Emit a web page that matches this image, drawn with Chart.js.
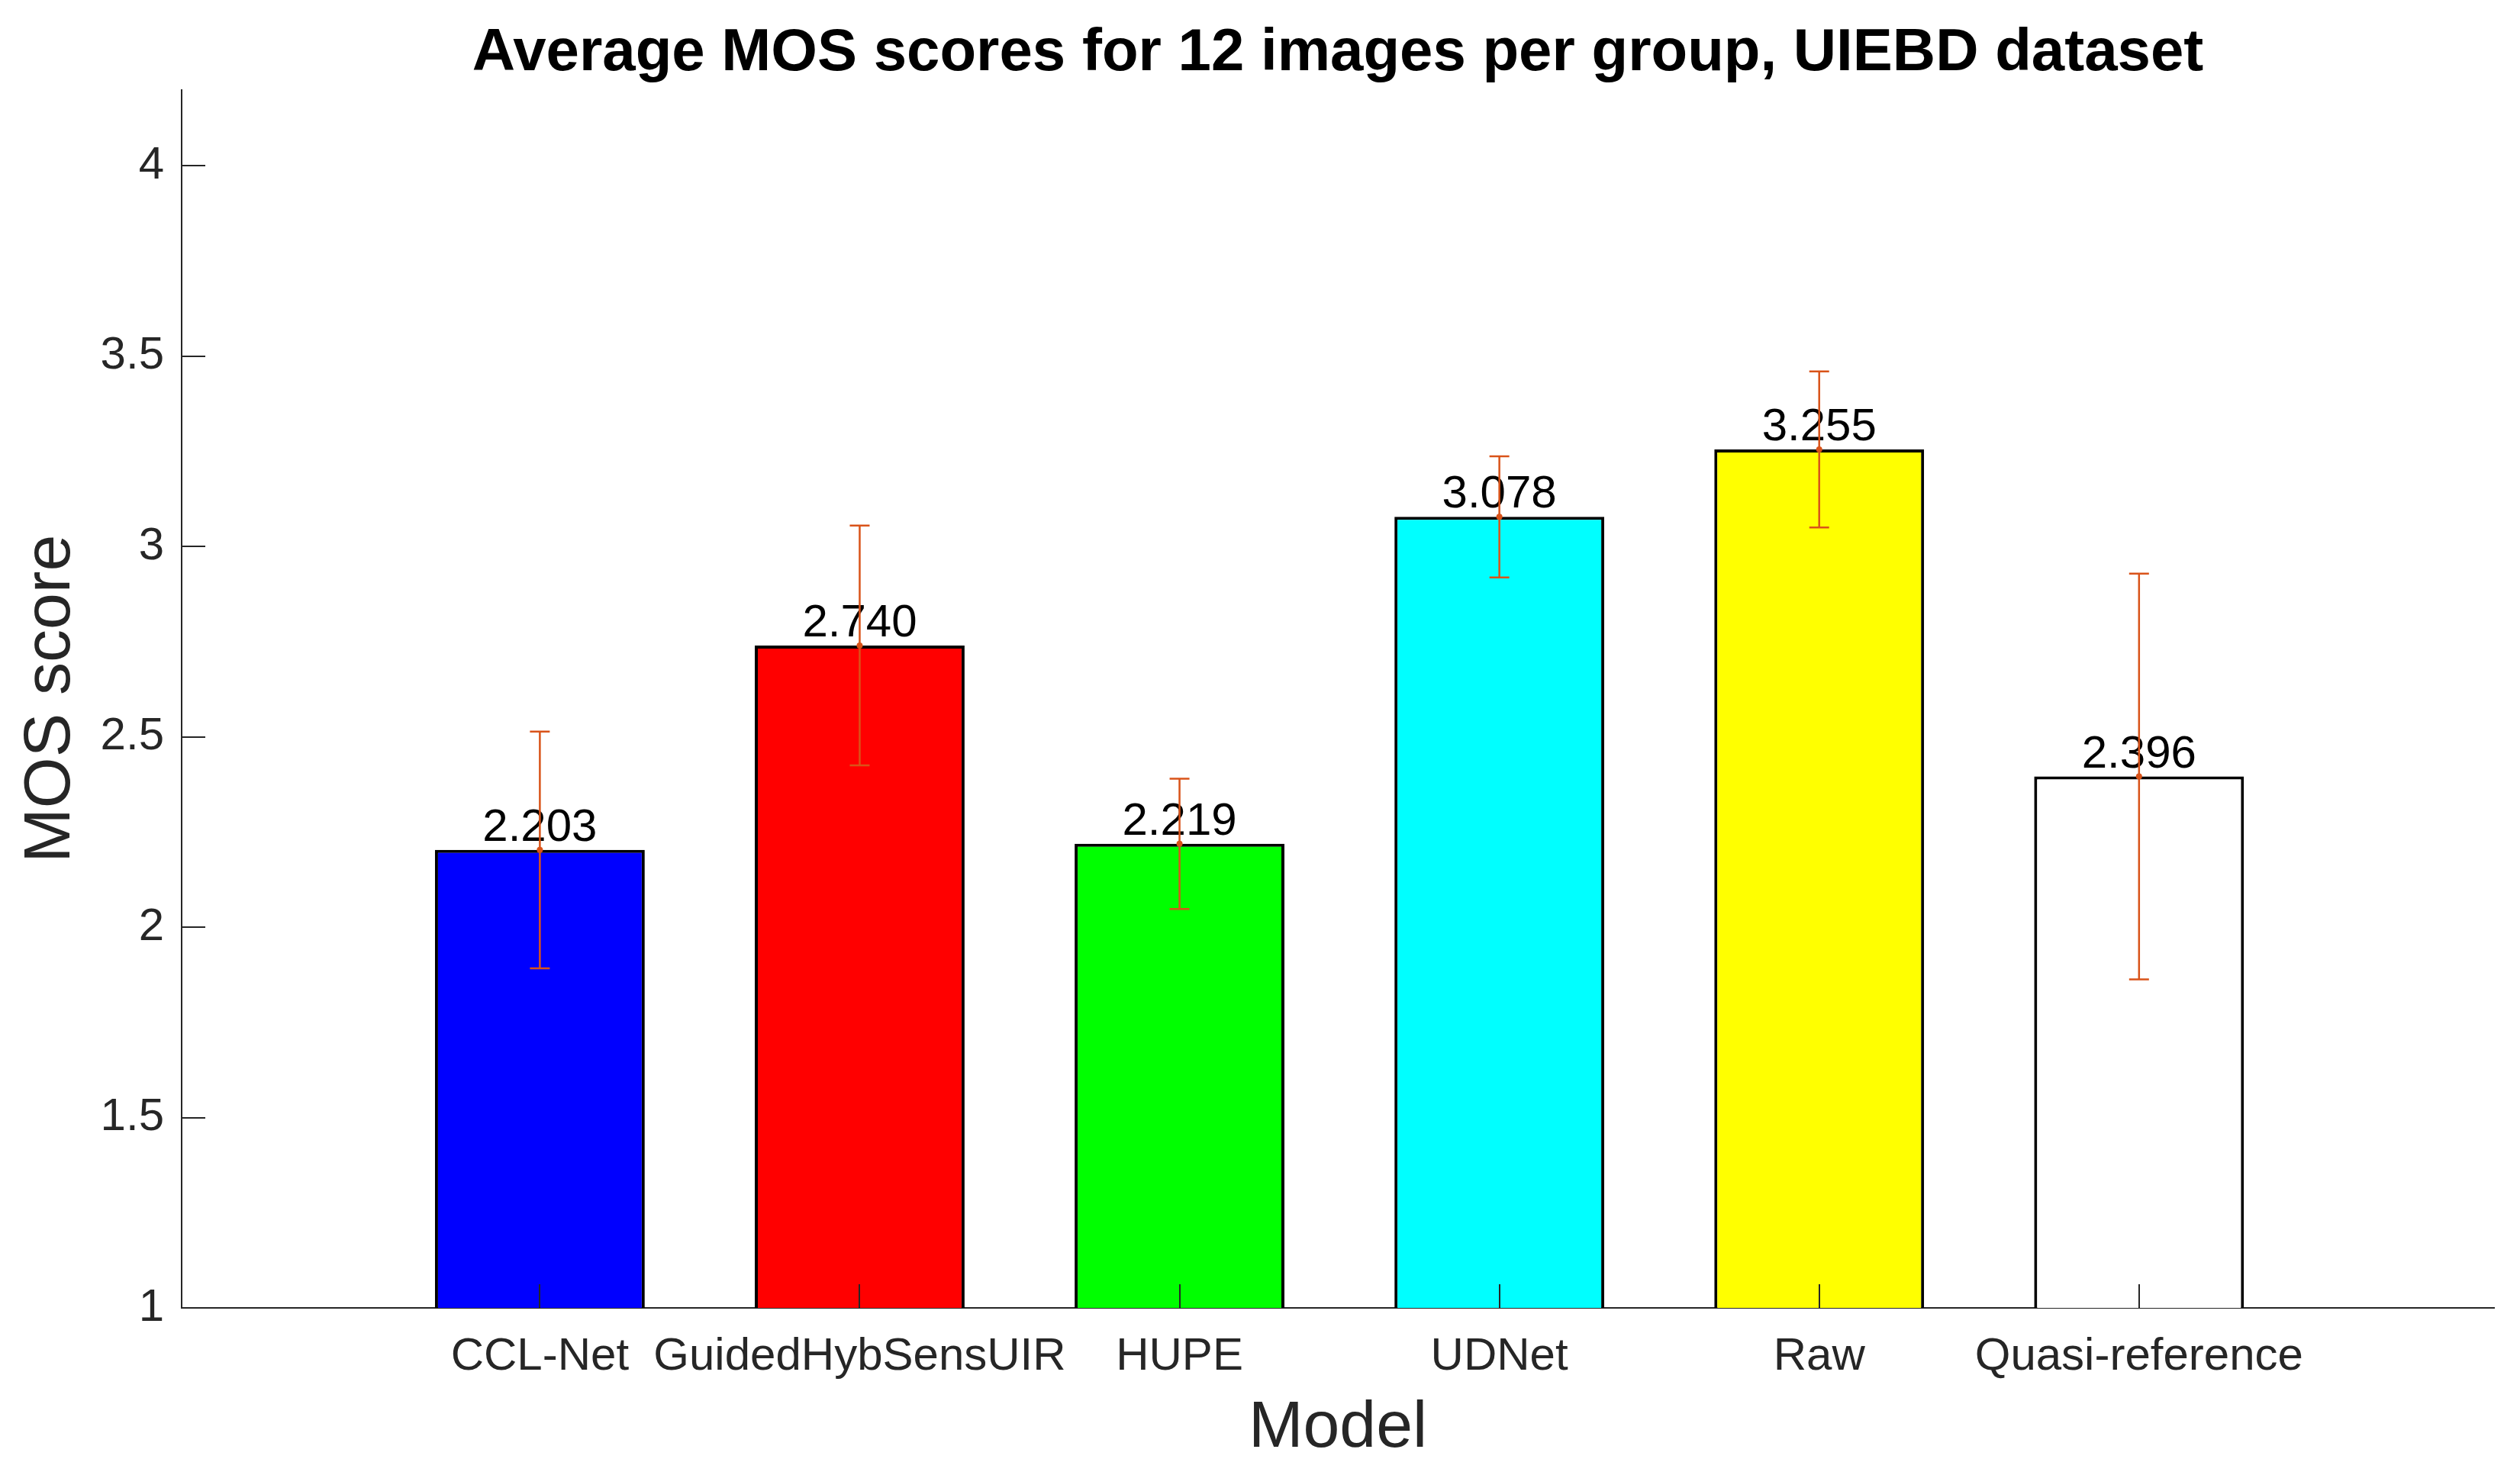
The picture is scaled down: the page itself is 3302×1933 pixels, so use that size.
<!DOCTYPE html>
<html>
<head>
<meta charset="utf-8">
<title>Average MOS scores</title>
<script src="https://cdn.jsdelivr.net/npm/chart.js@4.4.1/dist/chart.umd.min.js"></script>
<style>
  html, body { margin: 0; padding: 0; background: #fff; }
  #wrap { width: 3302px; height: 1933px; }
</style>
</head>
<body>
<div id="wrap"><canvas id="mosChart"></canvas></div>
<script>
const models = ["CCL-Net", "GuidedHybSensUIR", "HUPE", "UDNet", "Raw", "Quasi-reference"];
const mosMeans = [2.203, 2.740, 2.219, 3.078, 3.255, 2.396];
const mosErrors = [0.311, 0.315, 0.171, 0.159, 0.205, 0.533];
const barColors = ["#0000ff", "#ff0000", "#00ff00", "#00ffff", "#ffff00", "#ffffff"];
const yTicks = [1, 1.5, 2, 2.5, 3, 3.5, 4];

const FONT = "'Liberation Sans', Arial, Helvetica, sans-serif";
const AXIS = "#262626";
const ERR = "#d95319";

// inward tick marks, value labels and error bars
const mosExtras = {
  id: "mosExtras",
  afterDatasetsDraw(chart) {
    const { ctx, scales: { x, y } } = chart;
    const meta = chart.getDatasetMeta(0);
    ctx.save();

    // value labels above bars
    ctx.fillStyle = "#000";
    ctx.font = "60px " + FONT;
    ctx.textAlign = "center";
    ctx.textBaseline = "alphabetic";
    meta.data.forEach((bar, i) => {
      ctx.fillText(mosMeans[i].toFixed(3), bar.x, bar.y - 12);
    });

    // ticks pointing into the plot
    ctx.strokeStyle = AXIS;
    ctx.lineWidth = 2;
    ctx.beginPath();
    y.ticks.forEach((t) => {
      const py = Math.round(y.getPixelForValue(t.value));
      ctx.moveTo(x.left, py);
      ctx.lineTo(x.left + 31, py);
    });
    models.forEach((m, i) => {
      const px = Math.round(x.getPixelForValue(i + 1));
      ctx.moveTo(px, y.bottom);
      ctx.lineTo(px, y.bottom - 31);
    });
    ctx.stroke();

    // error bars
    ctx.strokeStyle = ERR;
    ctx.fillStyle = ERR;
    ctx.lineWidth = 2.5;
    mosMeans.forEach((v, i) => {
      const px = x.getPixelForValue(i + 1);
      const top = y.getPixelForValue(v + mosErrors[i]);
      const bot = y.getPixelForValue(v - mosErrors[i]);
      ctx.beginPath();
      ctx.moveTo(px, top);
      ctx.lineTo(px, bot);
      ctx.moveTo(px - 13, top);
      ctx.lineTo(px + 13, top);
      ctx.moveTo(px - 13, bot);
      ctx.lineTo(px + 13, bot);
      ctx.stroke();
      ctx.beginPath();
      ctx.arc(px, y.getPixelForValue(v), 4, 0, Math.PI * 2);
      ctx.fill();
    });

    ctx.restore();
  },
};

const ctx = document.getElementById("mosChart");

const myChart = new Chart(ctx, {
  type: "bar",
  data: {
    datasets: [
      {
        data: models.map((m, i) => ({ x: i + 1, y: mosMeans[i] })),
        backgroundColor: barColors,
        borderColor: "#000000",
        borderWidth: 4,
        borderSkipped: "start",
        barPercentage: 0.656,
        categoryPercentage: 1,
      },
    ],
  },
  options: {
    responsive: true,
    maintainAspectRatio: false,
    animation: false,
    layout: {
      padding: { left: 0, right: 34, top: 0, bottom: 0 },
    },
    plugins: {
      legend: { display: false },
      tooltip: { enabled: false },
      title: {
        display: true,
        fullSize: false,
        text: "Average MOS scores for 12 images per group, UIEBD dataset",
        color: "#000000",
        font: { family: FONT, size: 78, weight: "bold" },
        padding: { top: 24, bottom: 0 },
      },
    },
    scales: {
      x: {
        type: "linear",
        offset: false,
        min: -0.12,
        max: 7.11,
        grid: { display: false, drawTicks: false, offset: false },
        border: { color: AXIS, width: 2 },
        afterBuildTicks: (s) => {
          s.ticks = models.map((m, i) => ({ value: i + 1 }));
        },
        afterFit: (s) => {
          s.height = 219;
        },
        ticks: {
          callback: (v) => models[v - 1],
          color: AXIS,
          font: { family: FONT, size: 60 },
          padding: 28,
          maxRotation: 0,
          autoSkip: false,
        },
        title: {
          display: true,
          text: "Model",
          color: AXIS,
          font: { family: FONT, size: 86 },
          padding: { top: 0, bottom: 9 },
        },
      },
      y: {
        min: 1,
        max: 4.2,
        grid: { display: false, drawTicks: false },
        border: { color: AXIS, width: 2 },
        afterBuildTicks: (s) => {
          s.ticks = yTicks.map((v) => ({ value: v }));
        },
        afterFit: (s) => {
          s.width = 238;
        },
        ticks: {
          callback: (v) => String(v),
          color: AXIS,
          font: { family: FONT, size: 60 },
          padding: 23,
        },
        title: {
          display: true,
          text: "MOS score",
          color: AXIS,
          font: { family: FONT, size: 86 },
          padding: { top: 16, bottom: 0 },
        },
      },
    },
  },
  plugins: [mosExtras],
});
</script>
</body>
</html>
